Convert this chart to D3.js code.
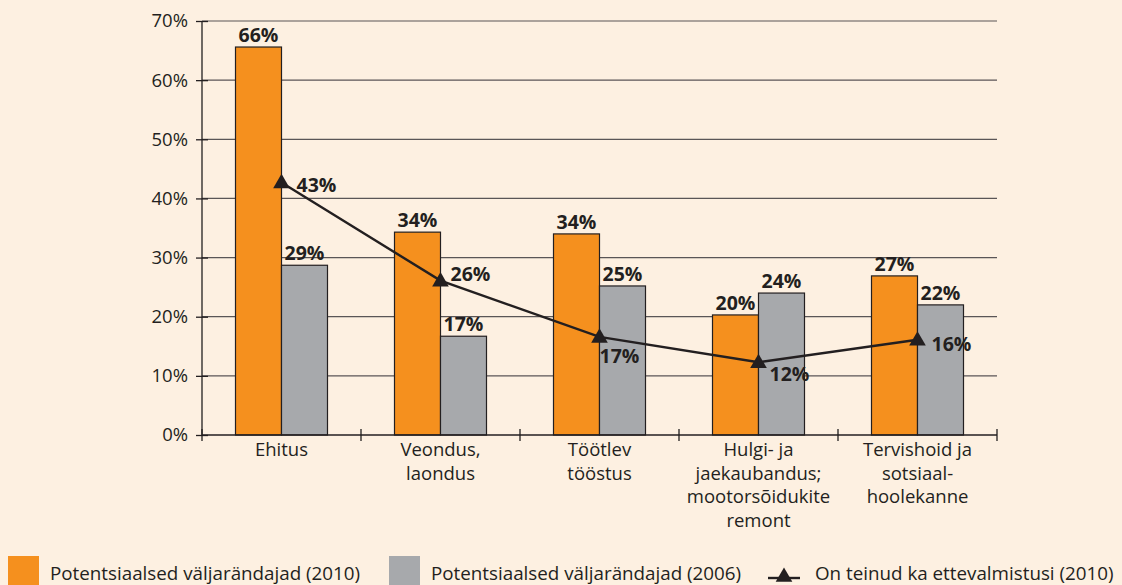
<!DOCTYPE html>
<html>
<head>
<meta charset="utf-8">
<script src="https://cdn.jsdelivr.net/npm/d3@7"></script>
<style>
  body { margin: 0; background: #fdf0e1; }
  svg { display: block; font-family: "Open Sans", "DejaVu Sans", sans-serif; }
</style>
</head>
<body>
<div id="chart"></div>
<script>
// data
var categories = [
  ["Ehitus"],
  ["Veondus,", "laondus"],
  ["Töötlev", "tööstus"],
  ["Hulgi- ja", "jaekaubandus;", "mootorsõidukite", "remont"],
  ["Tervishoid ja", "sotsiaal-", "hoolekanne"]
];
var potential2010 = [0.656, 0.343, 0.340, 0.203, 0.269];
var potential2006 = [0.287, 0.167, 0.252, 0.240, 0.220];
var prepared2010 = [0.427, 0.261, 0.166, 0.123, 0.161];
var label2010 = ["66%", "34%", "34%", "20%", "27%"];
var label2006 = ["29%", "17%", "25%", "24%", "22%"];
var labelLine = ["43%", "26%", "17%", "12%", "16%"];
var yTicks = [0, 0.1, 0.2, 0.3, 0.4, 0.5, 0.6, 0.7];
var seriesNames = ["Potentsiaalsed väljarändajad (2010)", "Potentsiaalsed väljarändajad (2006)", "On teinud ka ettevalmistusi (2010)"];

var width = 1122, height = 585;
var margin = { top: 21, right: 125, bottom: 150, left: 202 };
var plotW = width - margin.left - margin.right;
var plotH = height - margin.top - margin.bottom;

var orange = "#f5901e", grey = "#a7a9ac", ink = "#231f20";
var fs = "18.5px", fsBold = "19.5px";

var svg = d3.select("#chart").append("svg")
  .attr("width", width).attr("height", height);

svg.append("rect").attr("width", width).attr("height", height).attr("fill", "#fdf0e1");

var g = svg.append("g").attr("transform", `translate(${margin.left},${margin.top})`);

var x = d3.scaleBand().domain(d3.range(categories.length)).range([0, plotW]);
var y = d3.scaleLinear().domain([0, 0.7]).range([plotH, 0]);
var barW = 46;

// gridlines
g.selectAll(".grid")
  .data(yTicks.slice(1))
  .enter().append("line")
  .attr("x1", 0).attr("x2", plotW)
  .attr("y1", d => y(d)).attr("y2", d => y(d))
  .attr("stroke", "#5a5556").attr("stroke-width", 1.2);

// y axis
var yAxis = g.append("g")
  .call(d3.axisLeft(y).tickValues(yTicks).tickFormat(d3.format(".0%")).tickSize(6).tickPadding(8))
  .attr("font-family", null).attr("font-size", null);
yAxis.select(".domain").attr("stroke", ink).attr("stroke-width", 1.3).attr("d", `M0,${plotH}V0`);
yAxis.selectAll(".tick line").attr("stroke", ink).attr("stroke-width", 1.3).attr("x1", 6);
yAxis.selectAll(".tick text").attr("fill", ink).style("font-size", fs);

// bars
g.selectAll(".bar2010")
  .data(potential2010)
  .enter().append("rect")
  .attr("x", (d, i) => x(i) + x.bandwidth() / 2 - barW)
  .attr("y", d => y(d))
  .attr("width", barW)
  .attr("height", d => plotH - y(d))
  .attr("fill", orange).attr("stroke", ink).attr("stroke-width", 1.2);

g.selectAll(".bar2006")
  .data(potential2006)
  .enter().append("rect")
  .attr("x", (d, i) => x(i) + x.bandwidth() / 2)
  .attr("y", d => y(d))
  .attr("width", barW)
  .attr("height", d => plotH - y(d))
  .attr("fill", grey).attr("stroke", ink).attr("stroke-width", 1.2);

// bar labels
g.selectAll(".lab2010")
  .data(potential2010)
  .enter().append("text")
  .attr("x", (d, i) => x(i) + x.bandwidth() / 2 - barW / 2)
  .attr("y", d => y(d) - 5)
  .attr("text-anchor", "middle")
  .style("font-size", fsBold).style("font-weight", "bold").attr("fill", ink)
  .text((d, i) => label2010[i]);

g.selectAll(".lab2006")
  .data(potential2006)
  .enter().append("text")
  .attr("x", (d, i) => x(i) + x.bandwidth() / 2 + barW / 2)
  .attr("y", d => y(d) - 5)
  .attr("text-anchor", "middle")
  .style("font-size", fsBold).style("font-weight", "bold").attr("fill", ink)
  .text((d, i) => label2006[i]);

// x axis
var xAxis = g.append("g").attr("transform", `translate(0,${plotH})`);
xAxis.append("line").attr("x1", 0).attr("x2", plotW).attr("stroke", ink).attr("stroke-width", 1.3);
xAxis.selectAll(".xt")
  .data(d3.range(categories.length + 1))
  .enter().append("line")
  .attr("x1", d => d * x.step()).attr("x2", d => d * x.step())
  .attr("y1", -6).attr("y2", 6)
  .attr("stroke", ink).attr("stroke-width", 1.3);

xAxis.selectAll(".xl")
  .data(categories)
  .enter().append("text")
  .attr("text-anchor", "middle")
  .attr("fill", ink)
  .style("font-size", fs)
  .each(function (lines, i) {
    d3.select(this).selectAll("tspan")
      .data(lines)
      .enter().append("tspan")
      .attr("x", x(i) + x.bandwidth() / 2)
      .attr("y", (l, j) => 21 + j * 23.7)
      .text(l => l);
  });

// line series
var line = d3.line()
  .x((d, i) => x(i) + x.bandwidth() / 2)
  .y(d => y(d));

g.append("path")
  .datum(prepared2010)
  .attr("d", line)
  .attr("fill", "none").attr("stroke", ink).attr("stroke-width", 2.4);

var tri = d3.symbol().type(d3.symbolTriangle).size(120);
g.selectAll(".marker")
  .data(prepared2010)
  .enter().append("path")
  .attr("d", tri)
  .attr("transform", (d, i) => `translate(${x(i) + x.bandwidth() / 2},${y(d) + 1})`)
  .attr("fill", ink);

// line labels: position offsets per point
var lineLabOffset = [[15, 10], [10, 0], [0, 26], [11, 19], [14, 11]];
g.selectAll(".labLine")
  .data(prepared2010)
  .enter().append("text")
  .attr("x", (d, i) => x(i) + x.bandwidth() / 2 + lineLabOffset[i][0])
  .attr("y", (d, i) => y(d) + lineLabOffset[i][1])
  .style("font-size", fsBold).style("font-weight", "bold").attr("fill", ink)
  .text((d, i) => labelLine[i]);

// legend
var legend = svg.append("g").attr("transform", "translate(0,556)");
var legX = [8, 389];
legend.selectAll(".legRect")
  .data([orange, grey])
  .enter().append("rect")
  .attr("x", (d, i) => legX[i]).attr("y", 0)
  .attr("width", 31).attr("height", 31)
  .attr("fill", d => d);

legend.append("line").attr("x1", 768).attr("x2", 800).attr("y1", 22).attr("y2", 22)
  .attr("stroke", ink).attr("stroke-width", 2.4);
legend.append("path").attr("d", tri).attr("transform", "translate(784,21)").attr("fill", ink);

var legTextX = [50, 431, 815];
legend.selectAll(".legText")
  .data(seriesNames)
  .enter().append("text")
  .attr("x", (d, i) => legTextX[i]).attr("y", 24)
  .style("font-size", "18.8px").attr("fill", ink)
  .text(d => d);
</script>
</body>
</html>
